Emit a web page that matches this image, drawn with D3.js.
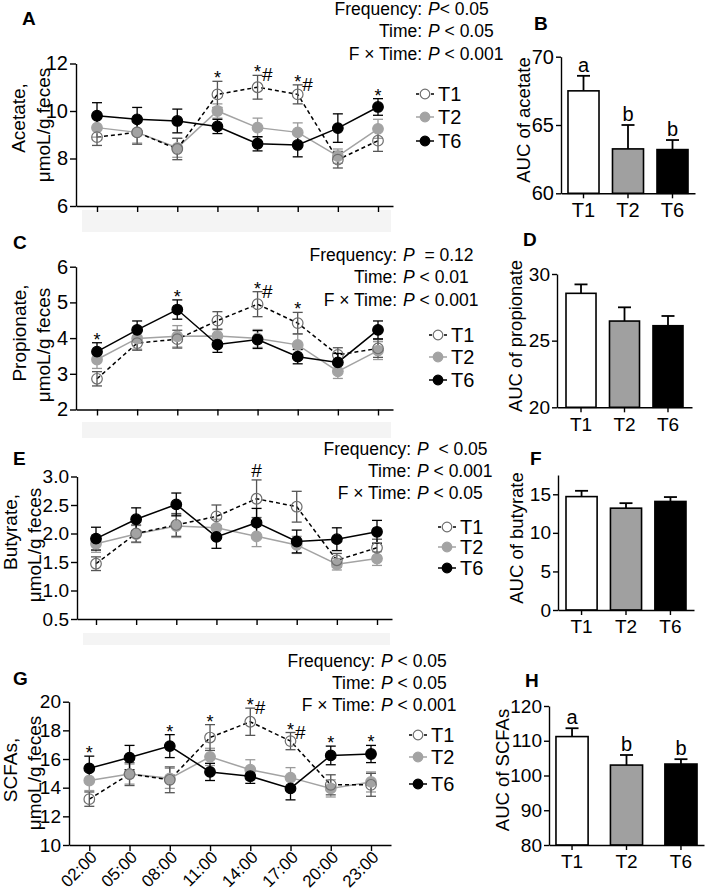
<!DOCTYPE html>
<html><head><meta charset="utf-8">
<script src="https://cdn.jsdelivr.net/npm/d3@7"></script>
<style>
body{margin:0;background:#fff;}
svg{display:block;font-family:"Liberation Sans",Arial,sans-serif;}
text{white-space:pre;}
</style></head><body>
<svg id="c" width="709" height="894"></svg>
<script>
// ---------- data ----------
const times = ["02:00","05:00","08:00","11:00","14:00","17:00","20:00","23:00"];
const groups = ["T1","T2","T6"];

const acetateT1 = [8.9, 9.1, 8.4, 10.7, 11.0, 10.7, 7.95, 8.75];
const acetateT1Err = [0.35, 0.5, 0.45, 0.55, 0.5, 0.4, 0.35, 0.45];
const acetateT2 = [9.3, 9.1, 8.45, 10.0, 9.3, 9.1, 8.1, 9.25];
const acetateT2Err = [0.4, 0.45, 0.4, 0.3, 0.4, 0.4, 0.3, 0.4];
const acetateT6 = [9.8, 9.65, 9.58, 9.35, 8.62, 8.57, 9.28, 10.17];
const acetateT6Err = [0.55, 0.5, 0.5, 0.3, 0.3, 0.5, 0.6, 0.35];
const acetateMarks = ["", "", "", "*", "*#", "*#", "", "*"];
const acetateTicks = [6, 8, 10, 12];

const propionateT1 = [2.86, 3.86, 3.97, 4.49, 4.95, 4.42, 3.53, 3.71];
const propionateT1Err = [0.2, 0.2, 0.25, 0.25, 0.35, 0.3, 0.2, 0.25];
const propionateT2 = [3.4, 3.99, 4.05, 4.06, 3.99, 3.81, 3.07, 3.65];
const propionateT2Err = [0.25, 0.3, 0.3, 0.2, 0.25, 0.3, 0.2, 0.25];
const propionateT6 = [3.62, 4.23, 4.8, 3.82, 3.96, 3.48, 3.32, 4.23];
const propionateT6Err = [0.25, 0.25, 0.27, 0.22, 0.25, 0.2, 0.25, 0.25];
const propionateMarks = ["*", "", "*", "", "*#", "*", "", ""];
const propionateTicks = [2, 3, 4, 5, 6];

const butyrateT1 = [1.47, 2.0, 2.15, 2.3, 2.61, 2.47, 1.53, 1.75];
const butyrateT1Err = [0.12, 0.15, 0.2, 0.2, 0.33, 0.27, 0.12, 0.15];
const butyrateT2 = [1.82, 1.99, 2.13, 2.1, 1.95, 1.8, 1.46, 1.56];
const butyrateT2Err = [0.15, 0.15, 0.2, 0.15, 0.18, 0.15, 0.1, 0.12];
const butyrateT6 = [1.91, 2.25, 2.51, 1.94, 2.19, 1.86, 1.9, 2.03];
const butyrateT6Err = [0.2, 0.2, 0.2, 0.2, 0.25, 0.2, 0.2, 0.2];
const butyrateMarks = ["", "", "", "", "#", "", "", ""];
const butyrateTicks = [0.5, 1.0, 1.5, 2.0, 2.5, 3.0];

const scfaT1 = [13.2, 14.95, 14.55, 17.5, 18.6, 17.25, 14.2, 14.2];
const scfaT1Err = [0.5, 0.8, 0.9, 0.9, 0.95, 0.6, 0.7, 0.8];
const scfaT2 = [14.5, 14.95, 14.65, 16.15, 15.25, 14.7, 13.95, 14.4];
const scfaT2Err = [0.7, 0.7, 0.7, 0.6, 0.7, 0.7, 0.6, 0.7];
const scfaT6 = [15.35, 16.1, 16.9, 15.1, 14.8, 13.95, 16.25, 16.35];
const scfaT6Err = [0.85, 0.85, 0.8, 0.6, 0.5, 0.8, 0.65, 0.6];
const scfaMarks = ["*", "", "*", "*", "*#", "*#", "*", "*"];
const scfaTicks = [10, 12, 14, 16, 18, 20];

const aucAcetate = [67.5, 63.25, 63.2];
const aucAcetateErr = [1.1, 1.75, 0.7];
const aucAcetateLetters = ["a", "b", "b"];
const aucAcetateTicks = [60, 65, 70];

const aucPropionate = [28.55, 26.47, 26.12];
const aucPropionateErr = [0.67, 1.03, 0.73];
const aucPropionateLetters = ["", "", ""];
const aucPropionateTicks = [20, 25, 30];

const aucButyrate = [14.7, 13.2, 14.07];
const aucButyrateErr = [0.75, 0.65, 0.57];
const aucButyrateLetters = ["", "", ""];
const aucButyrateTicks = [0, 5, 10, 15];

const aucScfa = [111.2, 103.0, 103.3];
const aucScfaErr = [2.4, 2.9, 1.4];
const aucScfaLetters = ["a", "b", "b"];
const aucScfaTicks = [80, 90, 100, 110, 120];

const acetateStats = [["Frequency: ", "P", "< 0.05"], ["Time: ", "P", " < 0.05"], ["F × Time: ", "P", " < 0.001"]];
const propionateStats = [["Frequency: ", "P", "  = 0.12"], ["Time: ", "P", " < 0.01"], ["F × Time: ", "P", " < 0.001"]];
const butyrateStats = [["Frequency: ", "P", "  < 0.05"], ["Time: ", "P", " < 0.001"], ["F × Time: ", "P", " < 0.05"]];
const scfaStats = [["Frequency: ", "P", " < 0.05"], ["Time: ", "P", " < 0.05"], ["F × Time: ", "P", " < 0.001"]];

// ---------- styles ----------
const style = {
  T1: {line: "#000", dash: "4,3", stroke: "#6e6e6e", fill: "none", err: "#555"},
  T2: {line: "#a3a3a3", dash: null, stroke: "#a3a3a3", fill: "#a3a3a3", err: "#9a9a9a"},
  T6: {line: "#000", dash: null, stroke: "#000", fill: "#000", err: "#000"}
};
const barFill = {T1: "#fff", T2: "#a0a0a0", T6: "#000"};
const svg = d3.select("#c");

function styleAxis(g, fs) {
  g.select(".domain").attr("stroke", "#000").attr("stroke-width", 1.4);
  g.selectAll(".tick line").attr("stroke", "#000").attr("stroke-width", 1.4);
  g.selectAll(".tick text").attr("font-size", fs).attr("fill", "#000")
    .attr("font-family", "Liberation Sans, Arial, sans-serif");
}

function statsBlock(lines, pX, ys, fs) {
  lines.forEach((l, i) => {
    svg.append("text").attr("x", pX - 1).attr("y", ys[i]).attr("text-anchor", "end")
      .attr("font-size", fs).text(l[0]);
    const t = svg.append("text").attr("x", pX).attr("y", ys[i]).attr("font-size", fs);
    t.append("tspan").attr("font-style", "italic").text(l[1]);
    t.append("tspan").text(l[2]);
  });
}

function panelLetter(t, x, y) {
  svg.append("text").attr("x", x).attr("y", y).attr("font-size", 19)
    .attr("font-weight", "bold").text(t);
}

function linePanel(o) {
  const x = d3.scaleLinear().domain([0, 7]).range([o.x0, o.x7]);
  const xa = d3.scaleLinear().domain([x.invert(o.axisL), x.invert(o.axisR)]).range([o.axisL, o.axisR]);
  const y = d3.scaleLinear().domain([o.ticks[0], o.ticks[o.ticks.length - 1]]).range([o.yBottom, o.yTop]);

  if (o.band) {
    svg.append("rect").attr("x", o.axisL + 6).attr("y", o.band[0]).attr("width", o.axisR - o.axisL - 8)
      .attr("height", o.band[1]).attr("fill", "#f4f4f4");
  }

  const ax = svg.append("g").attr("transform", `translate(0,${o.yBottom})`)
    .call(d3.axisBottom(xa).tickValues(d3.range(8)).tickSize(6).tickSizeOuter(0)
      .tickFormat(o.xLabels ? (d => times[d]) : () => ""));
  styleAxis(ax, o.tickFs);
  if (o.xLabels) {
    ax.selectAll(".tick text").attr("text-anchor", "end").attr("dy", "0.35em").attr("font-size", 17)
      .attr("transform", "translate(4,9) rotate(-45)").attr("x", 0).attr("y", 0);
  }
  const ay = svg.append("g").attr("transform", `translate(${o.axisL},0)`)
    .call(d3.axisLeft(y).tickValues(o.ticks).tickSize(6).tickPadding(2).tickSizeOuter(0)
      .tickFormat(o.fmt));
  styleAxis(ay, o.tickFs);

  // y title
  o.title.forEach((t, i) => {
    svg.append("text").attr("transform", `translate(${o.titlePos[i][0]},${o.titlePos[i][1]}) rotate(-90)`)
      .attr("text-anchor", "middle").attr("dominant-baseline", "central")
      .attr("font-size", o.titleFs).text(t);
  });

  const order = ["T2", "T1", "T6"];
  const line = d3.line().x((d, i) => x(i)).y(d => y(d));
  order.forEach(gname => {
    const s = o.series[gname], st = style[gname];
    svg.append("path").datum(s.v).attr("d", line).attr("fill", "none")
      .attr("stroke", st.line).attr("stroke-width", 1.5)
      .attr("stroke-dasharray", st.dash);
  });
  order.forEach(gname => {
    const s = o.series[gname], st = style[gname];
    const eg = svg.append("g").attr("stroke", st.err).attr("stroke-width", 1.3).attr("fill", "none");
    s.v.forEach((v, i) => {
      const cx = x(i), y1 = y(v + s.e[i]), y2 = y(v - s.e[i]);
      eg.append("line").attr("x1", cx).attr("x2", cx).attr("y1", y1).attr("y2", y2);
      eg.append("line").attr("x1", cx - 5).attr("x2", cx + 5).attr("y1", y1).attr("y2", y1);
      eg.append("line").attr("x1", cx - 5).attr("x2", cx + 5).attr("y1", y2).attr("y2", y2);
    });
  });
  order.forEach(gname => {
    const s = o.series[gname], st = style[gname];
    svg.append("g").selectAll("circle").data(s.v).join("circle")
      .attr("cx", (d, i) => x(i)).attr("cy", d => y(d)).attr("r", 5.3)
      .attr("fill", st.fill).attr("stroke", st.stroke).attr("stroke-width", 1.2);
  });

  // significance marks
  o.marks.forEach((m, i) => {
    if (!m) return;
    const top = d3.min(groups, g => y(o.series[g].v[i] + o.series[g].e[i]));
    const cx = x(i);
    if (m === "#") {
      svg.append("text").attr("x", cx).attr("y", top - 3).attr("text-anchor", "middle")
        .attr("font-size", 19).text("#");
    } else {
      svg.append("text").attr("x", cx).attr("y", top + 3).attr("text-anchor", "middle")
        .attr("font-size", 18).text("*");
      if (m === "*#") {
        svg.append("text").attr("x", cx + 4.5).attr("y", top + 6).attr("font-size", 19).text("#");
      }
    }
  });

  // legend
  groups.forEach((gname, i) => {
    const st = style[gname], ly = o.legend.ys[i], lx = o.legend.x;
    svg.append("line").attr("x1", lx - 9).attr("x2", lx + 9).attr("y1", ly).attr("y2", ly)
      .attr("stroke", st.line).attr("stroke-width", 1.5).attr("stroke-dasharray", gname === "T1" ? "3,2" : null);
    svg.append("circle").attr("cx", lx).attr("cy", ly).attr("r", 4.8)
      .attr("fill", gname === "T1" ? "#fff" : st.fill).attr("stroke", st.stroke).attr("stroke-width", 1.2);
    svg.append("text").attr("x", lx + 13).attr("y", ly).attr("dominant-baseline", "central")
      .attr("font-size", o.legendFs).text(gname);
  });

  statsBlock(o.stats, o.pX, o.statY, o.statFs);
  panelLetter(o.letter[0], o.letter[1], o.letter[2]);
}

function barPanel(o) {
  const x = d3.scaleBand().domain(groups).range([o.axisL, o.axisR]).paddingInner(o.pi).paddingOuter(o.po);
  const y = d3.scaleLinear().domain(o.domain).range([o.yBottom, o.yTop]);
  const vals = groups.map((g, i) => ({g, v: o.vals[i], e: o.errs[i], l: o.letters[i]}));

  const eg = svg.append("g").attr("stroke", "#000").attr("stroke-width", 1.8);
  vals.forEach(d => {
    const cx = x(d.g) + x.bandwidth() / 2;
    eg.append("line").attr("x1", cx).attr("x2", cx).attr("y1", y(d.v)).attr("y2", y(d.v + d.e));
    eg.append("line").attr("x1", cx - 6.5).attr("x2", cx + 6.5).attr("y1", y(d.v + d.e)).attr("y2", y(d.v + d.e));
  });
  svg.append("g").selectAll("rect").data(vals).join("rect")
    .attr("x", d => x(d.g)).attr("width", x.bandwidth())
    .attr("y", d => y(d.v)).attr("height", d => o.yBottom - y(d.v))
    .attr("fill", d => barFill[d.g]).attr("stroke", "#000").attr("stroke-width", 1.6);
  vals.forEach(d => {
    if (!d.l) return;
    svg.append("text").attr("x", x(d.g) + x.bandwidth() / 2).attr("y", y(d.v + d.e) - 4)
      .attr("text-anchor", "middle").attr("font-size", 20).text(d.l);
  });

  const ax = svg.append("g").attr("transform", `translate(0,${o.yBottom})`)
    .call(d3.axisBottom(x).tickSize(5).tickPadding(5).tickSizeOuter(0));
  styleAxis(ax, o.tickFs);
  const ay = svg.append("g").attr("transform", `translate(${o.axisL},0)`)
    .call(d3.axisLeft(y).tickValues(o.ticks).tickSize(5).tickPadding(2).tickSizeOuter(0));
  styleAxis(ay, o.tickFs);

  svg.append("text").attr("transform", `translate(${o.titlePos[0]},${o.titlePos[1]}) rotate(-90)`)
    .attr("text-anchor", "middle").attr("dominant-baseline", "central")
    .attr("font-size", 18.5).text(o.title);
  panelLetter(o.letter[0], o.letter[1], o.letter[2]);
}

// ---------- panels ----------
linePanel({
  x0: 97, x7: 378, axisL: 76, axisR: 393, yBottom: 206, yTop: 63.5,
  ticks: acetateTicks, fmt: d3.format("d"), tickFs: 20,
  series: {T1: {v: acetateT1, e: acetateT1Err}, T2: {v: acetateT2, e: acetateT2Err}, T6: {v: acetateT6, e: acetateT6Err}},
  marks: acetateMarks, title: ["Acetate,", "μmoL/g feces"], titlePos: [[18, 118], [43, 125]], titleFs: 19,
  stats: acetateStats, pX: 428, statY: [15, 37, 60], statFs: 17.5,
  legend: {x: 425, ys: [94, 117, 141]}, legendFs: 20, letter: ["A", 22, 25], band: [210, 22], xLabels: false
});
linePanel({
  x0: 97, x7: 378, axisL: 76, axisR: 393, yBottom: 409.5, yTop: 266.7,
  ticks: propionateTicks, fmt: d3.format("d"), tickFs: 20,
  series: {T1: {v: propionateT1, e: propionateT1Err}, T2: {v: propionateT2, e: propionateT2Err}, T6: {v: propionateT6, e: propionateT6Err}},
  marks: propionateMarks, title: ["Propionate,", "μmoL/g feces"], titlePos: [[19, 333], [43, 345]], titleFs: 19,
  stats: propionateStats, pX: 403, statY: [261, 283, 306], statFs: 17.5,
  legend: {x: 438, ys: [335, 357, 380]}, legendFs: 20, letter: ["C", 13, 249], band: [422, 16], xLabels: false
});
linePanel({
  x0: 96, x7: 377, axisL: 77, axisR: 392, yBottom: 619, yTop: 476.5,
  ticks: butyrateTicks, fmt: d3.format(".1f"), tickFs: 19,
  series: {T1: {v: butyrateT1, e: butyrateT1Err}, T2: {v: butyrateT2, e: butyrateT2Err}, T6: {v: butyrateT6, e: butyrateT6Err}},
  marks: butyrateMarks, title: ["Butyrate,", "μmoL/g feces"], titlePos: [[10, 532], [34, 545]], titleFs: 19,
  stats: butyrateStats, pX: 417, statY: [455, 477, 499], statFs: 17.5,
  legend: {x: 447, ys: [527, 547, 568]}, legendFs: 20, letter: ["E", 13, 465], band: [633, 12], xLabels: false
});
linePanel({
  x0: 89.3, x7: 371, axisL: 69, axisR: 391, yBottom: 845, yTop: 701.7,
  ticks: scfaTicks, fmt: d3.format("d"), tickFs: 19,
  series: {T1: {v: scfaT1, e: scfaT1Err}, T2: {v: scfaT2, e: scfaT2Err}, T6: {v: scfaT6, e: scfaT6Err}},
  marks: scfaMarks, title: ["SCFAs,", "μmoL/g feces"], titlePos: [[10, 770], [34, 773]], titleFs: 19,
  stats: scfaStats, pX: 381, statY: [667, 689, 711], statFs: 17.5,
  legend: {x: 418, ys: [735, 757, 784]}, legendFs: 20, letter: ["G", 13, 685], band: null, xLabels: true
});

barPanel({axisL: 561, axisR: 695, pi: 0.303, po: 0.157, yBottom: 193.3, yTop: 56.7, domain: [60, 70],
  ticks: aucAcetateTicks, vals: aucAcetate, errs: aucAcetateErr, letters: aucAcetateLetters, tickFs: 20,
  title: "AUC of acetate", titlePos: [523, 120], letter: ["B", 534, 30]});
barPanel({axisL: 557, axisR: 692, pi: 0.31, po: 0.207, yBottom: 407.3, yTop: 274, domain: [20, 30],
  ticks: aucPropionateTicks, vals: aucPropionate, errs: aucPropionateErr, letters: aucPropionateLetters, tickFs: 19,
  title: "AUC of propionate", titlePos: [515, 336], letter: ["D", 523, 246]});
barPanel({axisL: 558, axisR: 694, pi: 0.3, po: 0.18, yBottom: 610, yTop: 475, domain: [0, 17.5],
  ticks: aucButyrateTicks, vals: aucButyrate, errs: aucButyrateErr, letters: aucButyrateLetters, tickFs: 19,
  title: "AUC of butyrate", titlePos: [516, 538], letter: ["F", 530, 465]});
barPanel({axisL: 549, axisR: 704, pi: 0.41, po: 0.128, yBottom: 845, yTop: 706, domain: [80, 120],
  ticks: aucScfaTicks, vals: aucScfa, errs: aucScfaErr, letters: aucScfaLetters, tickFs: 19,
  title: "AUC of SCFAs", titlePos: [502, 770], letter: ["H", 525, 687]});
</script>
</body></html>
